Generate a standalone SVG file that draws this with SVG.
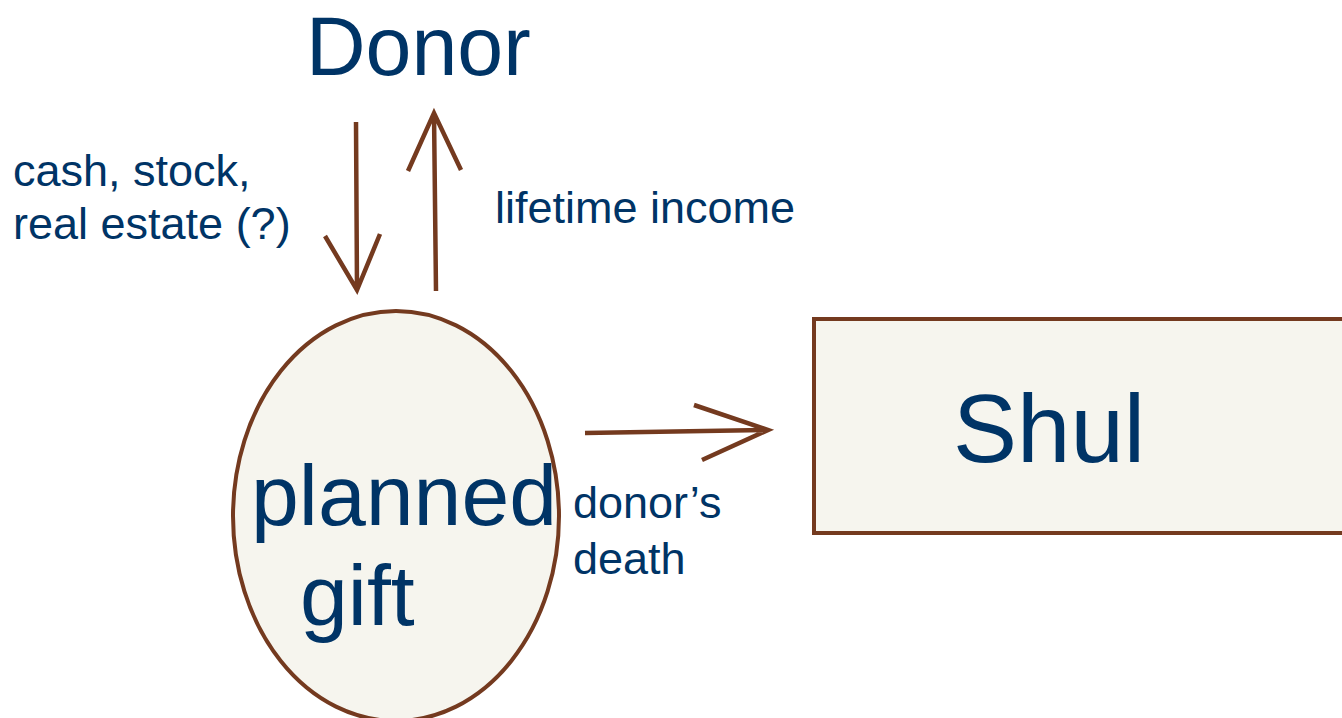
<svg xmlns="http://www.w3.org/2000/svg" width="1342" height="718" viewBox="0 0 1342 718">
<style>
.t{font-family:"Liberation Sans",Arial,sans-serif;fill:#003466}
.big{font-size:86px}
.sm{font-size:45px}
.shape{fill:#F6F5EE;stroke:#743A1F;stroke-width:4}
.conn{fill:none;stroke:#743A1F;stroke-width:4.5;stroke-linecap:butt;stroke-linejoin:miter}
</style>
<rect width="1342" height="718" fill="#FFFFFF"/>
<g id="connectors">
<path class="conn" d="M356,122 L357,290 M325,236 L357,290 L380,234"/>
<path class="conn" d="M436,291 L434,113 M408,171 L434,113 L461,170"/>
<path class="conn" d="M585,433 L768,430 M694,405 L768,430 L702,460"/>
</g>
<g id="donor">
<text class="t" x="306" y="75" font-size="82.5">Donor</text>
</g>
<g id="planned-gift">
<ellipse class="shape" cx="396" cy="516" rx="163" ry="205"/>
<text class="t big" x="251" y="525">planned</text>
<text class="t big" x="300" y="625">gift</text>
</g>
<g id="shul">
<rect class="shape" x="814" y="319" width="560" height="214"/>
<text class="t" x="953" y="462" font-size="96">Shul</text>
</g>
<g id="labels">
<text class="t sm" x="13" y="186">cash, stock,</text>
<text class="t sm" x="13" y="239">real estate (?)</text>
<text class="t sm" x="495" y="223">lifetime income</text>
<text class="t sm" x="573" y="518">donor’s</text>
<text class="t sm" x="573" y="574">death</text>
</g>
</svg>
